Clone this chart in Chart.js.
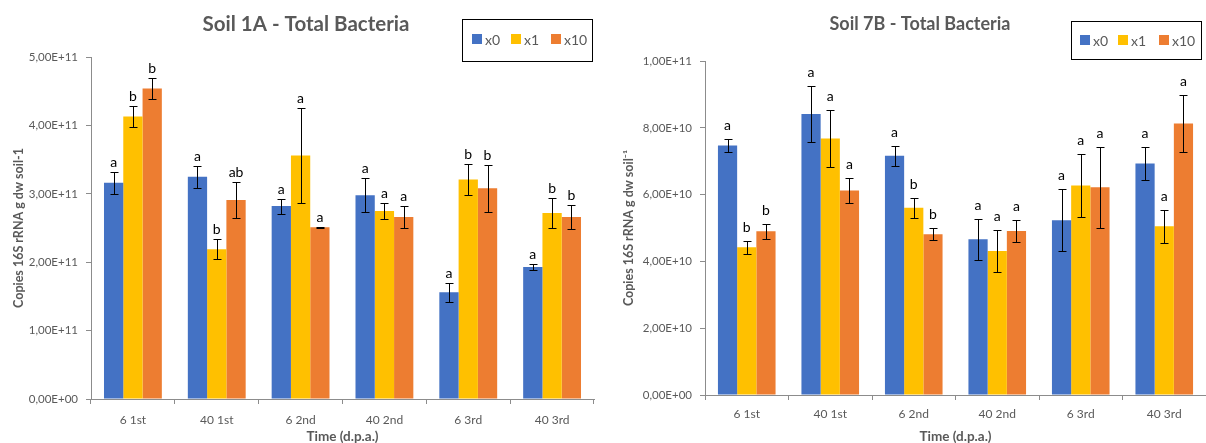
<!DOCTYPE html>
<html>
<head>
<meta charset="utf-8">
<title>Total Bacteria</title>
<script src="https://cdn.jsdelivr.net/npm/chart.js@4.4.1/dist/chart.umd.min.js"></script>
<style>
  body { margin: 0; background: #fff; }
  #wrap { position: relative; width: 1206px; height: 443px; }
  canvas { position: absolute; top: 0; }
</style>
</head>
<body>
<div id="wrap">
  <canvas id="soil1A" width="606" height="443" style="left:0"></canvas>
  <canvas id="soil7B" width="600" height="443" style="left:606px"></canvas>
</div>
<script>
// datos
const categories = ['6 1st', '40 1st', '6 2nd', '40 2nd', '6 3rd', '40 3rd'];
const seriesNames = ['x0', 'x1', 'x10'];
const seriesColors = ['#4472C4', '#FFC000', '#ED7D31'];

// Soil 1A
const soil1A_x0 = [3.16e11, 3.25e11, 2.82e11, 2.98e11, 1.56e11, 1.93e11];
const soil1A_x1 = [4.13e11, 2.19e11, 3.56e11, 2.75e11, 3.21e11, 2.72e11];
const soil1A_x10 = [4.54e11, 2.91e11, 2.51e11, 2.66e11, 3.08e11, 2.66e11];
const soil1A_x0_err = [0.16e11, 0.16e11, 0.11e11, 0.25e11, 0.14e11, 0.05e11];
const soil1A_x1_err = [0.15e11, 0.15e11, 0.69e11, 0.115e11, 0.23e11, 0.22e11];
const soil1A_x10_err = [0.15e11, 0.26e11, 0.005e11, 0.16e11, 0.34e11, 0.17e11];
const soil1A_x0_letters = ['a', 'a', 'a', 'a', 'a', 'a'];
const soil1A_x1_letters = ['b', 'b', 'a', 'a', 'b', 'b'];
const soil1A_x10_letters = ['b', 'ab', 'a', 'a', 'b', 'b'];

// Soil 7B
const soil7B_x0 = [7.47e10, 8.41e10, 7.16e10, 4.66e10, 5.23e10, 6.93e10];
const soil7B_x1 = [4.42e10, 7.68e10, 5.61e10, 4.31e10, 6.27e10, 5.05e10];
const soil7B_x10 = [4.90e10, 6.12e10, 4.81e10, 4.91e10, 6.22e10, 8.13e10];
const soil7B_x0_err = [0.19e10, 0.85e10, 0.30e10, 0.62e10, 0.93e10, 0.49e10];
const soil7B_x1_err = [0.20e10, 0.85e10, 0.30e10, 0.62e10, 0.94e10, 0.49e10];
const soil7B_x10_err = [0.23e10, 0.37e10, 0.18e10, 0.34e10, 1.22e10, 0.86e10];
const soil7B_x0_letters = ['a', 'a', 'a', 'a', 'a', 'a'];
const soil7B_x1_letters = ['b', 'a', 'b', 'a', 'a', 'a'];
const soil7B_x10_letters = ['b', 'a', 'b', 'a', 'a', 'a'];

const GRAY = '#595959';
const AXIS = '#8c8c8c';
Chart.defaults.font.family = "Lato, 'Open Sans', sans-serif";

// formato tipo Excel: 5,00E+11
function sciComma(v) {
    const parts = Number(v).toExponential(2).split('e');
    const exp = parseInt(parts[1], 10);
    return parts[0].replace('.', ',') + 'E' + (exp < 0 ? '-' : '+') + String(Math.abs(exp)).padStart(2, '0');
}

/**
 * barras de error + letras de significancia
 */
const errorBarsPlugin = {
    id: 'errorBars',
    afterDatasetsDraw(chart, args, opts) {
        const ctx = chart.ctx;
        const y = chart.scales.y;
        ctx.save();
        ctx.strokeStyle = '#000';
        ctx.lineWidth = 1;
        ctx.fillStyle = '#000';
        ctx.font = opts.font;
        ctx.textAlign = 'center';
        ctx.textBaseline = 'bottom';
        chart.data.datasets.forEach((ds, i) => {
            const meta = chart.getDatasetMeta(i);
            meta.data.forEach((bar, j) => {
                const v = ds.data[j];
                const e = ds.errors[j];
                const top = Math.round(y.getPixelForValue(v + e)) + 0.5;
                const bot = Math.round(y.getPixelForValue(v - e)) + 0.5;
                const x = Math.round(bar.x) + 0.5;
                ctx.beginPath();
                ctx.moveTo(x, top); ctx.lineTo(x, bot);
                ctx.moveTo(x - 4, top); ctx.lineTo(x + 4, top);
                ctx.moveTo(x - 4, bot); ctx.lineTo(x + 4, bot);
                ctx.stroke();
                ctx.fillText(ds.letters[j], bar.x, top - opts.gap);
            });
        });
        ctx.restore();
    }
};

/**
 * titulo y leyenda con recuadro (como en Excel)
 */
const headerPlugin = {
    id: 'header',
    afterDraw(chart, args, opts) {
        const ctx = chart.ctx;
        ctx.save();
        ctx.fillStyle = GRAY;
        ctx.font = opts.titleFont;
        ctx.textAlign = 'center';
        ctx.textBaseline = 'middle';
        ctx.fillText(opts.title, opts.titleX, opts.titleY);

        const b = opts.box;
        ctx.strokeStyle = '#000';
        ctx.lineWidth = 1;
        ctx.strokeRect(b.x + 0.5, b.y + 0.5, b.w, b.h);
        ctx.font = opts.legendFont;
        ctx.textAlign = 'left';
        chart.data.datasets.forEach((ds, i) => {
            const x = opts.itemX[i];
            ctx.fillStyle = ds.backgroundColor;
            ctx.fillRect(x, opts.itemY - 5, 10, 10);
            ctx.fillStyle = GRAY;
            ctx.fillText(ds.label, x + 13, opts.itemY + 1);
        });
        ctx.restore();
    }
};

function makeDatasets(values, errors, letters) {
    return seriesNames.map((name, i) => ({
        label: name,
        data: values[i],
        errors: errors[i],
        letters: letters[i],
        backgroundColor: seriesColors[i],
        borderWidth: 0,
        categoryPercentage: 0.69,
        barPercentage: 1.0
    }));
}

function makeOptions(cfg) {
    return {
        responsive: false,
        animation: false,
        layout: { padding: { top: cfg.top, right: cfg.right, left: 0, bottom: 0 } },
        plugins: {
            legend: { display: false },
            tooltip: { enabled: false },
            errorBars: { font: '14px Lato', gap: cfg.gap },
            header: cfg.header
        },
        scales: {
            x: {
                afterFit: s => { s.height = cfg.xHeight; },
                grid: { drawOnChartArea: false, drawTicks: true, tickLength: 5, color: AXIS },
                border: { color: AXIS },
                ticks: { color: GRAY, font: { size: 12 }, padding: cfg.xPad },
                title: {
                    display: true,
                    text: 'Time (d.p.a.)',
                    color: GRAY,
                    font: { size: 13.5, weight: 'bold' },
                    padding: { top: 0, bottom: -2 }
                }
            },
            y: {
                min: 0,
                max: cfg.max,
                afterFit: s => { s.width = cfg.yWidth; },
                grid: { drawOnChartArea: false, drawTicks: true, tickLength: 5, color: AXIS },
                border: { color: AXIS },
                ticks: {
                    stepSize: cfg.step,
                    color: GRAY,
                    font: { size: 11.5 },
                    padding: 8,
                    callback: v => sciComma(v)
                },
                title: {
                    display: true,
                    text: cfg.yTitle,
                    color: GRAY,
                    font: { size: 12.5, weight: 'bold' },
                    padding: { top: cfg.yTitlePad, bottom: 0 }
                }
            }
        }
    };
}

// grafica Soil 1A
const ctx1A = document.getElementById('soil1A').getContext('2d');
const chart1A = new Chart(ctx1A, {
    type: 'bar',
    data: {
        labels: categories,
        datasets: makeDatasets(
            [soil1A_x0, soil1A_x1, soil1A_x10],
            [soil1A_x0_err, soil1A_x1_err, soil1A_x10_err],
            [soil1A_x0_letters, soil1A_x1_letters, soil1A_x10_letters])
    },
    options: makeOptions({
        top: 57, right: 12, xHeight: 44, yWidth: 91, max: 5e11, step: 1e11, gap: 3, xPad: 9,
        yTitle: 'Copies 16S rRNA g dw soil-1', yTitlePad: 11,
        header: {
            title: 'Soil 1A - Total Bacteria', titleX: 306, titleY: 24, titleFont: 'bold 20.5px Lato',
            box: { x: 462, y: 19, w: 130, h: 42 }, legendFont: '14px Lato',
            itemX: [472, 511, 551], itemY: 39
        }
    }),
    plugins: [errorBarsPlugin, headerPlugin]
});

// grafica Soil 7B
const ctx7B = document.getElementById('soil7B').getContext('2d');
const chart7B = new Chart(ctx7B, {
    type: 'bar',
    data: {
        labels: categories,
        datasets: makeDatasets(
            [soil7B_x0, soil7B_x1, soil7B_x10],
            [soil7B_x0_err, soil7B_x1_err, soil7B_x10_err],
            [soil7B_x0_letters, soil7B_x1_letters, soil7B_x10_letters])
    },
    options: makeOptions({
        top: 61, right: 0, xHeight: 48, yWidth: 99, max: 1e11, step: 2e10, gap: 7, xPad: 7,
        yTitle: 'Copies 16S rRNA g dw soil⁻¹', yTitlePad: 15,
        header: {
            title: 'Soil 7B - Total Bacteria', titleX: 314, titleY: 24, titleFont: 'bold 18px Lato',
            box: { x: 465, y: 21, w: 130, h: 38 }, legendFont: '14px Lato',
            itemX: [474, 512, 553], itemY: 40
        }
    }),
    plugins: [errorBarsPlugin, headerPlugin]
});
</script>
</body>
</html>
